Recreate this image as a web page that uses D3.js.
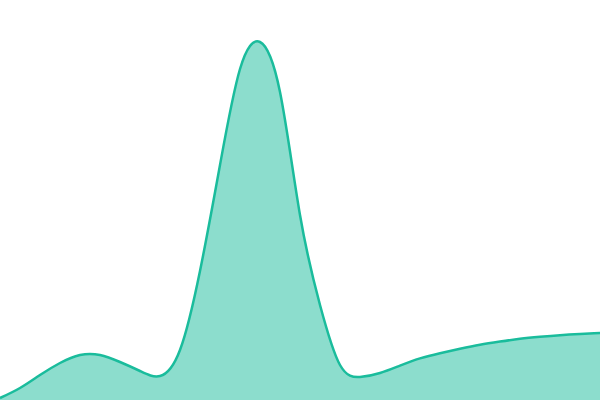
<!DOCTYPE html>
<html>
<head>
<meta charset="utf-8">
<script src="https://cdn.jsdelivr.net/npm/d3@7"></script>
<style>
  html, body { margin: 0; padding: 0; background: #fff; }
</style>
</head>
<body>
<div id="chart"></div>
<script>
// sample positions along the x axis (one every 20 px of the original)
var positions = d3.range(0, 31);

// series values
var values = [0.5, 3, 6.25, 9.25, 11.25, 11.25, 9.5, 7.25, 6, 12.5,
              32.25, 58.75, 82.75, 89.5, 77, 46.25, 23.75, 8.75, 5.75, 6.75,
              8.6, 10.4, 11.7, 12.8, 13.8, 14.6, 15.3, 15.8, 16.2, 16.5, 16.75];

var width = 600,
    height = 400;

var svg = d3.select("#chart")
  .append("svg")
  .attr("width", width)
  .attr("height", height);

var x = d3.scaleLinear().domain([0, 30]).range([0, width]);
var y = d3.scaleLinear().domain([0, 100]).range([height, 0]);

var data = positions.map((p, i) => ({x: p, v: values[i]}));

var area = d3.area()
  .x(d => x(d.x))
  .y0(y(0))
  .y1(d => y(d.v))
  .curve(d3.curveNatural);

var line = d3.line()
  .x(d => x(d.x))
  .y(d => y(d.v))
  .curve(d3.curveNatural);

svg.append("path")
  .datum(data)
  .attr("d", area)
  .attr("fill", "#1abc9c")
  .attr("fill-opacity", 0.5);

svg.append("path")
  .datum(data)
  .attr("d", line)
  .attr("fill", "none")
  .attr("stroke", "#1abc9c")
  .attr("stroke-width", 2.5);
</script>
</body>
</html>
